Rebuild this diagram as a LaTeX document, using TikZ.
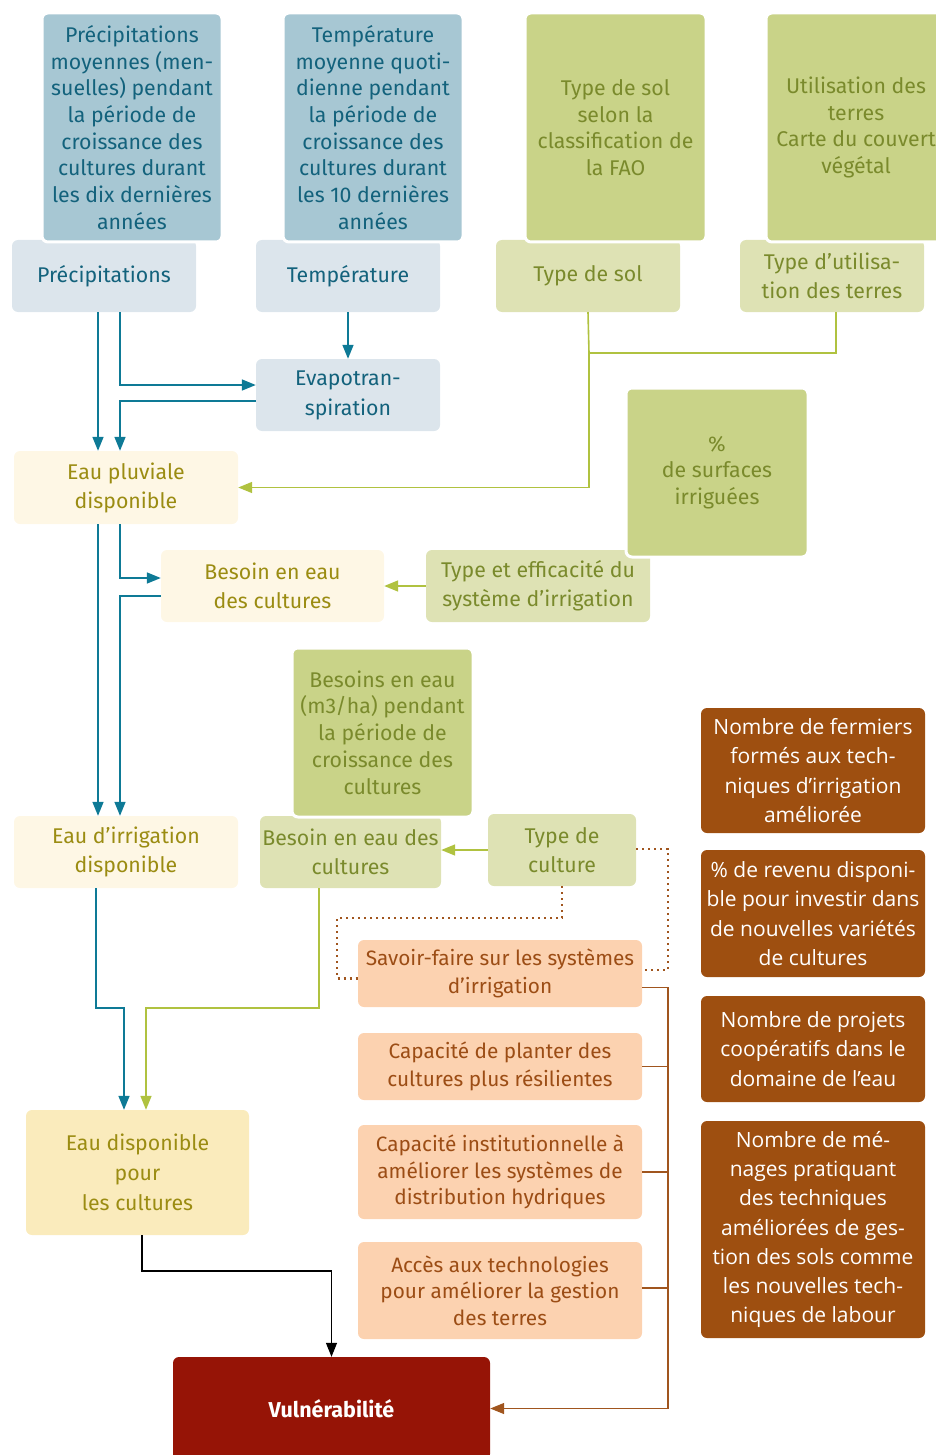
\documentclass[tikz,border=0pt]{standalone}
\usepackage{fontspec}
\setmainfont{Fira Sans}
\newfontfamily\widesans{Open Sans}
\usetikzlibrary{arrows.meta}

% box fills
\definecolor{bluedark}{HTML}{A7C7D3}
\definecolor{bluelight}{HTML}{DCE5EC}
\definecolor{greendark}{HTML}{C9D388}
\definecolor{greenlight}{HTML}{DEE2B4}
\definecolor{cream}{HTML}{FEF7E5}
\definecolor{creamdeep}{HTML}{FAEBBC}
\definecolor{peach}{HTML}{FCD2B0}
\definecolor{rust}{HTML}{9E4F10}
\definecolor{crimson}{HTML}{961406}
% text colours
\definecolor{tealtext}{HTML}{13627C}
\definecolor{olivetext}{HTML}{7A8A2C}
\definecolor{goldtext}{HTML}{9B8C12}
\definecolor{rusttext}{HTML}{9C4D15}
% connector colours
\definecolor{teal line}{HTML}{0E7A96}
\definecolor{green line}{HTML}{B0C240}
\definecolor{rust line}{HTML}{A0551E}

\begin{document}
\begin{tikzpicture}[x=1pt,y=-1pt,
  base/.style={rounded corners=6pt, align=center, inner sep=0pt},
  sz/.style 2 args={minimum width=#1 pt, minimum height=#2 pt},
  bluetop/.style={base, fill=bluedark, draw=white, line width=3pt, text=tealtext,
    font=\fontsize{21.3}{26.7}\selectfont},
  bluebox/.style={base, fill=bluelight, text=tealtext, font=\fontsize{21.3}{30}\selectfont},
  greentop/.style={base, fill=greendark, draw=white, line width=3pt, text=olivetext,
    font=\fontsize{21.3}{26.7}\selectfont},
  greenbox/.style={base, fill=greenlight, text=olivetext, font=\fontsize{21.3}{29}\selectfont},
  creambox/.style={base, fill=cream, text=goldtext, font=\fontsize{21.3}{29}\selectfont},
  peachbox/.style={base, fill=peach, text=rusttext, font=\fontsize{20.8}{27.5}\selectfont},
  rustbox/.style={base, fill=rust, text=white, font=\widesans\fontsize{21}{29.3}\selectfont},
  arr/.style={-{Triangle[length=14pt,width=11pt]}},
  tealarrow/.style={draw=teal line, line width=1.6pt, arr},
  greenarrow/.style={draw=green line, line width=1.6pt, arr},
  greenline/.style={draw=green line, line width=1.6pt},
  rustline/.style={draw=rust line, line width=1.3pt},
  rustdots/.style={draw=rust line, line width=2.2pt, dash pattern=on 2.2pt off 3.8pt},
]
\useasboundingbox (0,0) rectangle (936,1455);
\clip (0,0) rectangle (936,1455);

% ---- second row (drawn first, tops are covered by the data boxes)
\node[bluebox, sz={184}{72}] (prec) at (104,276) {Précipitations};
\node[bluebox, sz={184}{72}] (temp) at (348,276) {Température};
\node[greenbox, sz={184}{72}] (sol) at (588,276) {Type de sol};
\node[greenbox, sz={184}{72}] (util) at (832,276) {Type d’utilisa-\\tion des terres};

% ---- data sources
\node[bluetop, sz={180}{229}] (precD) at (132,127.5)
  {Précipitations\\moyennes (men-\\suelles) pendant\\la période de\\croissance des\\cultures durant\\les dix dernières\\années};
\node[bluetop, sz={180}{229}] (tempD) at (373,127.5)
  {Température\\moyenne quoti-\\dienne pendant\\la période de\\croissance des\\cultures durant\\les 10 dernières\\années};
\node[greentop, sz={181}{229}] (solD) at (615.5,127.5)
  {Type de sol\\selon la\\classification de\\la FAO};
\node[greentop, sz={180}{229}] (utilD) at (856,127.5)
  {Utilisation des\\terres\\Carte du couvert\\végétal};

\node[bluebox, sz={184}{72}] (evap) at (348,395) {Evapotran-\\spiration};

% ---- water chain
\node[creambox, sz={224}{73}] (pluv) at (126,487.5) {Eau pluviale\\disponible};
\node[creambox, sz={223}{72}] (besoin) at (272.5,586) {Besoin en eau\\des cultures};
\node[greenbox, sz={224}{72}] (eff) at (538,586) {Type et efficacité du\\système d’irrigation};
\node[greentop, sz={182}{169}] (surf) at (717,472.5) {\%\\de surfaces\\irriguées};

\node[creambox, sz={224}{72}] (irr) at (126,852) {Eau d’irrigation\\disponible};
\node[greenbox, sz={181}{72}] (bes2) at (350.5,852) {Besoin en eau des\\cultures};
\node[greentop, sz={181}{169}] (besD) at (382.5,732.5)
  {Besoins en eau\\(m3/ha) pendant\\la période de\\croissance des\\cultures};
\node[greenbox, sz={148}{72}] (cult) at (562,850) {Type de\\culture};

\node[creambox, fill=creamdeep, sz={223}{125}, font=\fontsize{21.3}{30}\selectfont] (dispo) at (137.5,1172.5)
  {Eau disponible\\pour\\les cultures};

% ---- capacities
\node[peachbox, sz={284}{67}] (savoir) at (500,973.5) {Savoir-faire sur les systèmes\\d’irrigation};
\node[peachbox, sz={284}{67}] (plan) at (500,1066.5) {Capacité de planter des\\cultures plus résilientes};
\node[peachbox, sz={284}{94}, font=\fontsize{20.8}{26.5}\selectfont] (inst) at (500,1172)
  {Capacité institutionnelle à\\améliorer les systèmes de\\distribution hydriques};
\node[peachbox, sz={284}{97}, font=\fontsize{20.8}{26.5}\selectfont] (acces) at (500,1290.5)
  {Accès aux technologies\\pour améliorer la gestion\\des terres};

% ---- indicators
\node[rustbox, sz={224}{125}] (ind1) at (813,770.5)
  {Nombre de fermiers\\formés aux tech-\\niques d’irrigation\\améliorée};
\node[rustbox, sz={224}{127}] (ind2) at (813,913.5)
  {\% de revenu disponi-\\ble pour investir dans\\de nouvelles variétés\\de cultures};
\node[rustbox, sz={224}{106}] (ind3) at (813,1049)
  {Nombre de projets\\coopératifs dans le\\domaine de l’eau};
\node[rustbox, sz={224}{217}] (ind4) at (813,1229.5)
  {Nombre de mé-\\nages pratiquant\\des techniques\\améliorées de ges-\\tion des sols comme\\les nouvelles tech-\\niques de labour};

% ---- outcome
\node[base, fill=crimson, text=white, sz={317}{103}, font=\bfseries\fontsize{21.5}{26}\selectfont] (vul) at (331.5,1408.5) {Vulnérabilité};

% ---- lanes and bend points
\coordinate (laneA) at (98,0);
\coordinate (laneB) at (120,0);
\coordinate (laneC) at (96,0);
\coordinate (laneD) at (124,0);
\coordinate (laneE) at (146,0);
\coordinate (laneF) at (319,0);
\coordinate (soilJoin) at (589,353);
\coordinate (lowJoin) at (0,1008);
\coordinate (rustBus) at (668,0);
\coordinate (blackBend) at (0,1271);
\coordinate (dotLeft) at (337,918);

% ---- teal flows
\draw[tealarrow] (prec.south -| laneA) -- (pluv.north -| laneA);
\draw[tealarrow] (prec.south -| laneB) |- ([yshift=10pt]evap.west);
\draw[tealarrow] ([yshift=-6pt]evap.west) -| (pluv.north -| laneB);
\draw[tealarrow] (temp.south) -- (evap.north);
\draw[tealarrow] (pluv.south -| laneA) -- (irr.north -| laneA);
\draw[tealarrow] (pluv.south -| laneB) |- ([yshift=8pt]besoin.west);
\draw[tealarrow] ([yshift=-10pt]besoin.west) -| (irr.north -| laneB);
\draw[tealarrow] (irr.south -| laneC) |- (lowJoin -| laneD) -- (dispo.north -| laneD);

% ---- green flows
\draw[greenline] (sol.south) -- (soilJoin) -| (util.south -| 836,0);
\draw[greenarrow] (soilJoin) |- (pluv.east);
\draw[greenarrow] (eff.west) -- (besoin.east);
\draw[greenarrow] (cult.west) -- (cult.west -| bes2.east);
\draw[greenarrow] (bes2.south -| laneF) |- (lowJoin -| laneE) -- (dispo.north -| laneE);

% ---- know-how links
\draw[rustdots] (cult.south) |- (dotLeft) |- ([yshift=-5pt]savoir.west);
\draw[rustdots] ([yshift=1pt]cult.east) -| (rustBus |- 0,970) -- ([yshift=3.5pt]savoir.east);

% ---- capacities to vulnerability
\draw[rustline] ([yshift=-14pt]savoir.east) -| (rustBus |- vul.east);
\draw[rustline] (plan.east) -- (plan.east -| rustBus);
\draw[rustline] (inst.east) -- (inst.east -| rustBus);
\draw[rustline] ([yshift=2.5pt]acces.east) -- ([yshift=2.5pt]acces.east -| rustBus);
\draw[rustline, -{Triangle[length=14pt,width=11pt]}] (rustBus |- vul.east) -- (vul.east);

% ---- available water to vulnerability
\draw[black, line width=1.3pt, arr] ([xshift=4.5pt]dispo.south) |- (blackBend -| vul.north) -- (vul.north);
\end{tikzpicture}
\end{document}
